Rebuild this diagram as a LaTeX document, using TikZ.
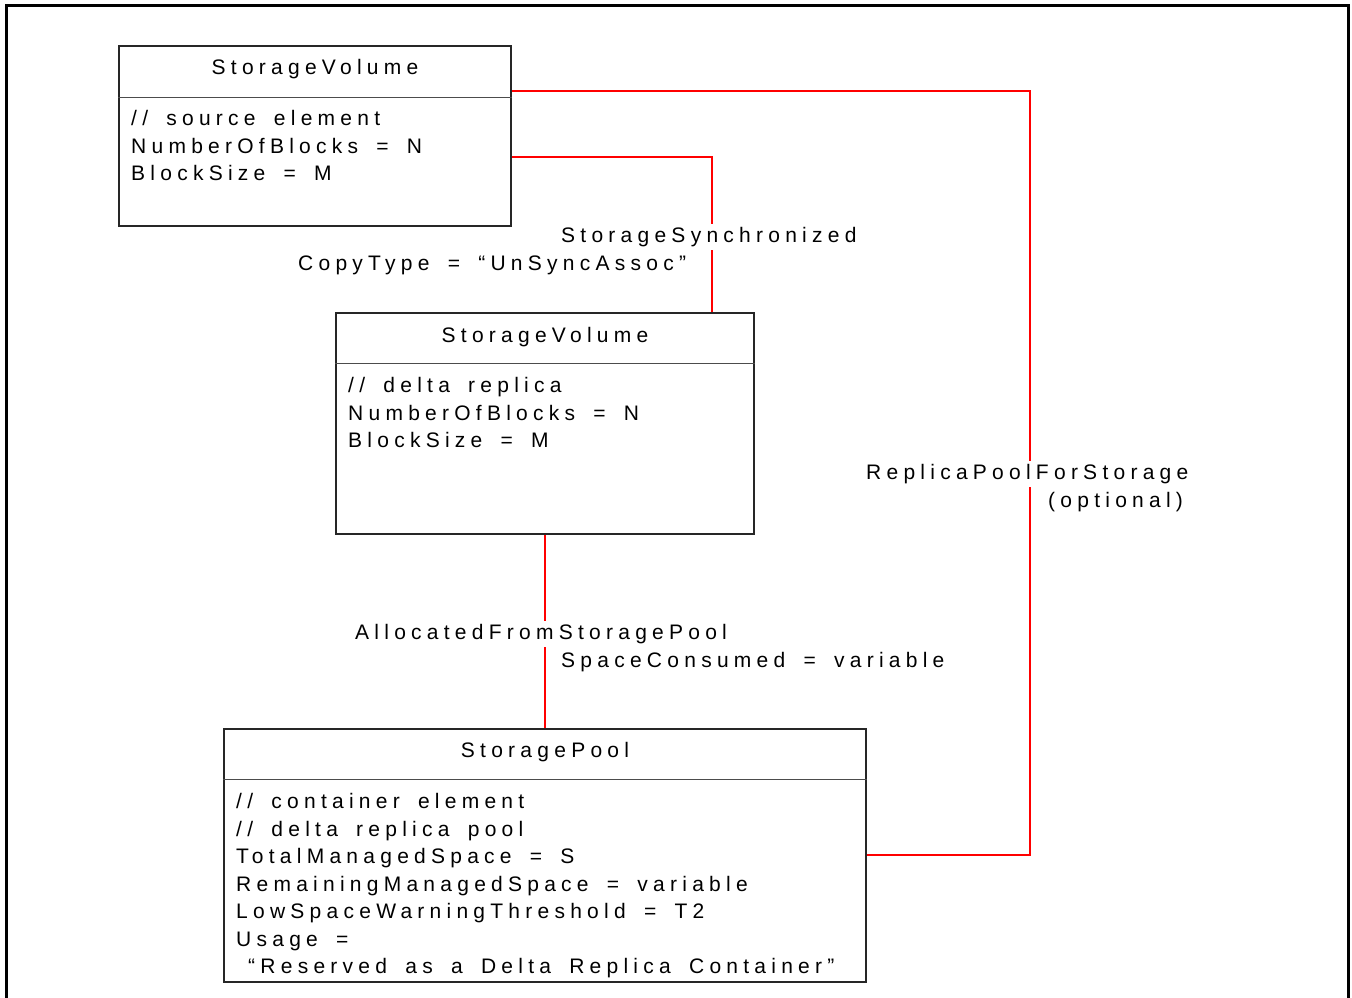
\documentclass[tikz,border=0pt]{standalone}
\usepackage{fontspec}
\setmainfont{Liberation Sans}[LetterSpace=25,WordSpace={1.65}]
\begin{document}
\begin{tikzpicture}[x=1pt,y=-1pt,
  every node/.style={font=\fontsize{21}{25}\selectfont},
  umlbox/.style={draw=black!85, line width=1.3pt, inner sep=0pt},
  divider/.style={draw=black!70, line width=1pt},
  txt/.style={anchor=base west, inner sep=0pt},
  ttl/.style={anchor=base, inner sep=0pt},
  lbl/.style={anchor=base west, inner xsep=0pt, inner ysep=3pt, fill=white},
  assoc/.style={draw=red, line width=1.1pt},
  frame/.style={draw=black, line width=2.8pt}]
\useasboundingbox (0,0) rectangle (1352,998);
\draw[frame] (6.2,998) -- (6.2,5.3) -- (1348.5,5.3) -- (1348.5,998);

% boxes
\node[umlbox, minimum width=392pt, minimum height=180pt] (sv1) at (315,136) {};
\node[umlbox, minimum width=418pt, minimum height=221pt] (sv2) at (545,423.5) {};
\node[umlbox, minimum width=642pt, minimum height=253pt] (sp) at (545,855.5) {};

% dividers
\draw[divider] (sv1.west |- 0,97) -- (sv1.east |- 0,97);
\draw[divider] (sv2.west |- 0,363) -- (sv2.east |- 0,363);
\draw[divider] (sp.west |- 0,779) -- (sp.east |- 0,779);

% connectors
\draw[assoc] (sv1.east |- 0,91) -| (1030,500) |- (sp.east |- 0,855);
\draw[assoc] (sv1.east |- 0,157) -| (sv2.north -| 712,0);
\draw[assoc] (sv2.south) -- (sp.north);

% box 1 text
\node[ttl] (t1) at (315,74.5) {StorageVolume};
\node[txt] (a11) at (131,125.5) {// source element};
\node[txt] (a12) at (131,153) {NumberOfBlocks = N};
\node[txt] (a13) at (131,180.5) {BlockSize = M};

% box 2 text
\node[ttl] (t2) at (545,342.5) {StorageVolume};
\node[txt] (a21) at (348,392.5) {// delta replica};
\node[txt] (a22) at (348,420) {NumberOfBlocks = N};
\node[txt] (a23) at (348,447.5) {BlockSize = M};

% box 3 text
\node[ttl] (t3) at (545,757.5) {StoragePool};
\node[txt] (a31) at (236,808.5) {// container element};
\node[txt] (a32) at (236,836) {// delta replica pool};
\node[txt] (a33) at (236,863.5) {TotalManagedSpace = S};
\node[txt] (a34) at (236,891) {RemainingManagedSpace = variable};
\node[txt] (a35) at (236,918.5) {LowSpaceWarningThreshold = T2};
\node[txt] (a36) at (236,946) {Usage =};
\node[txt] (a37) at (248,973.5) {“Reserved as a Delta Replica Container”};

% association labels
\node[lbl] (l1) at (561,242.5) {StorageSynchronized};
\node[txt] (l2) at (298,270.5) {CopyType = “UnSyncAssoc”};
\node[lbl] (l3) at (866,479.5) {ReplicaPoolForStorage};
\node[txt] (l4) at (1048,507.5) {(optional)};
\node[lbl] (l5) at (355,639.5) {AllocatedFromStoragePool};
\node[txt] (l6) at (561,667.5) {SpaceConsumed = variable};
\end{tikzpicture}
\end{document}
